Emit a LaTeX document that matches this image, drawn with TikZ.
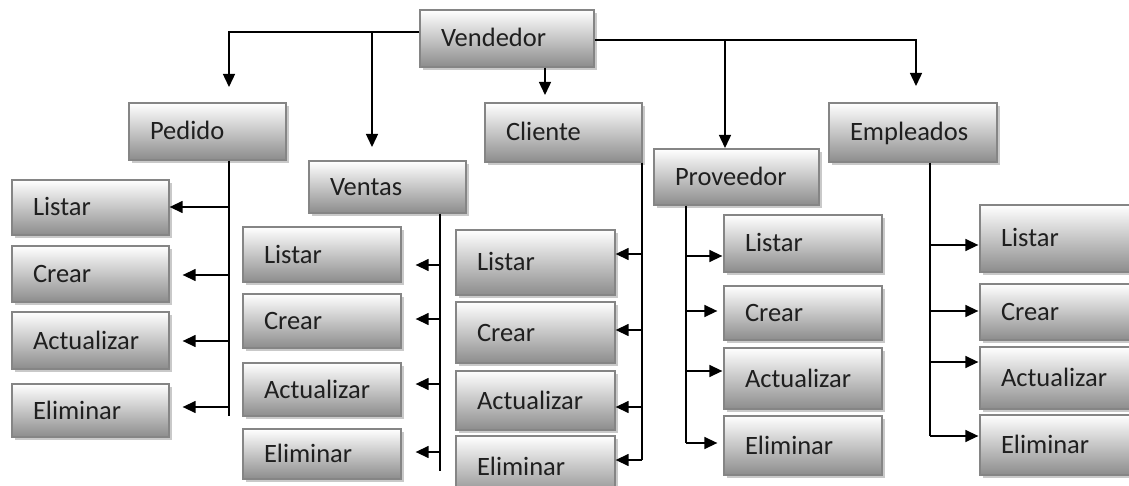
\documentclass[tikz,border=0pt]{standalone}
\usepackage{fontspec}
\setmainfont{Carlito}
\usetikzlibrary{arrows.meta,shadows}
\newcommand\bx[6]{%
  \pgfmathsetmacro\bxw{#4-#2-42}%
  \pgfmathsetmacro\bxh{#5-#3}%
  \pgfmathsetmacro\bxcx{(#2+#4)/2}%
  \pgfmathsetmacro\bxcy{(#3+#5)/2}%
  \node[box, text width=\bxw pt, minimum height=\bxh pt] (#1) at (\bxcx,\bxcy) {#6};}
% branch arrow to the left (to east side of child)
\newcommand\brl[4]{\draw[arr, shorten >=#4pt] (#1 |- 0,#3) -- (#2.east |- 0,#3);}
% branch arrow to the right (to west side of child)
\newcommand\brr[4]{\draw[arr, shorten >=#4pt] (#1 |- 0,#3) -- (#2.west |- 0,#3);}
\begin{document}
\begin{tikzpicture}[x=1pt,y=-1pt,
  box/.style={draw=black!48, line width=1.3pt, top color=white, bottom color=black!45,
    inner xsep=21pt, inner ysep=0pt, align=left, text height=17pt, text depth=0pt,
    text=black!88, font=\fontsize{26.5}{30}\selectfont,
    drop shadow={shadow xshift=2.5pt, shadow yshift=-3pt, opacity=0.3, fill=black!70}},
  ln/.style={draw=black, line width=1.4pt},
  arr/.style={ln, -{Triangle[length=13pt,width=12pt]}}]
\useasboundingbox (0,0) rectangle (1129,486);
\clip (0,0) rectangle (1129,486);
% top-level boxes
\bx{vend}{420}{10}{594}{67}{Vendedor}
\bx{ped}{129}{103}{286}{160}{Pedido}
\bx{ven}{309}{161}{466}{213}{Ventas}
\bx{cli}{485}{103}{642}{162}{Cliente}
\bx{pro}{654}{149}{819}{205}{Proveedor}
\bx{emp}{829}{103}{997}{162}{Empleados}
% Pedido children
\bx{pl}{12}{180}{169}{235}{Listar}
\bx{pc}{12}{246}{169}{302}{Crear}
\bx{pa}{12}{312}{169}{369}{Actualizar}
\bx{pe}{12}{384}{169}{437}{Eliminar}
% Ventas children
\bx{vl}{243}{227}{401}{282}{Listar}
\bx{vc}{243}{294}{401}{348}{Crear}
\bx{va}{243}{363}{401}{416}{Actualizar}
\bx{ve}{243}{429}{401}{479}{Eliminar}
% Cliente children
\bx{cl}{456}{230}{615}{295}{Listar}
\bx{cc}{456}{302}{615}{363}{Crear}
\bx{ca}{456}{371}{615}{430}{Actualizar}
\bx{ce}{456}{436}{615}{498}{Eliminar}
% Proveedor children
\bx{rl}{724}{215}{882}{272}{Listar}
\bx{rc}{724}{286}{882}{340}{Crear}
\bx{ra}{724}{348}{882}{409}{Actualizar}
\bx{re}{724}{416}{882}{475}{Eliminar}
% Empleados children
\bx{el}{980}{205}{1140}{272}{Listar}
\bx{ec}{980}{284}{1140}{340}{Crear}
\bx{ea}{980}{347}{1140}{409}{Actualizar}
\bx{ee}{980}{415}{1140}{475}{Eliminar}
% top connectors
\coordinate (tPed) at (229,87);
\coordinate (tVen) at (372,147);
\coordinate (tCli) at (545,95);
\coordinate (tPro) at (725,148);
\coordinate (tEmp) at (916,86);
\coordinate (hL) at ([yshift=6.5pt]vend.west);
\coordinate (hR) at ([yshift=-1.5pt]vend.east);
\draw[arr] (hL) -| (tPed);
\draw[arr] (hL -| tVen) -- (tVen);
\draw[arr] (vend.south -| tCli) -- (tCli);
\draw[arr] (hR) -| (tEmp);
\draw[arr] (hR -| tPro) -- (tPro);
% vertical branch lines
\coordinate (vPed) at (229,416);
\coordinate (vVen) at (440,471);
\coordinate (vCli) at (642,460);
\coordinate (vPro) at (686,443);
\coordinate (vEmp) at (930,436);
\draw[ln] (vPed |- ped.south) -- (vPed);
\draw[ln] (vVen |- ven.south) -- (vVen);
\draw[ln] (vCli |- cli.south) -- (vCli);
\draw[ln] (vPro |- pro.south) -- (vPro);
\draw[ln] (vEmp |- emp.south) -- (vEmp);
% Pedido
\brl{vPed}{pl}{207}{0}
\brl{vPed}{pc}{275}{13}
\brl{vPed}{pa}{341}{13}
\brl{vPed}{pe}{407}{13}
% Ventas
\brl{vVen}{vl}{265}{14}
\brl{vVen}{vc}{319}{14}
\brl{vVen}{va}{384}{14}
\brl{vVen}{ve}{452}{14}
% Cliente
\brl{vCli}{cl}{254}{0}
\brl{vCli}{cc}{330}{0}
\brl{vCli}{ca}{407}{0}
\brl{vCli}{ce}{460}{0}
% Proveedor
\brr{vPro}{rl}{256}{1}
\brr{vPro}{rc}{311}{6}
\brr{vPro}{ra}{371}{1}
\brr{vPro}{re}{443}{6}
% Empleados
\brr{vEmp}{el}{245}{1}
\brr{vEmp}{ec}{311}{1}
\brr{vEmp}{ea}{362}{1}
\brr{vEmp}{ee}{436}{1}
\end{tikzpicture}
\end{document}
